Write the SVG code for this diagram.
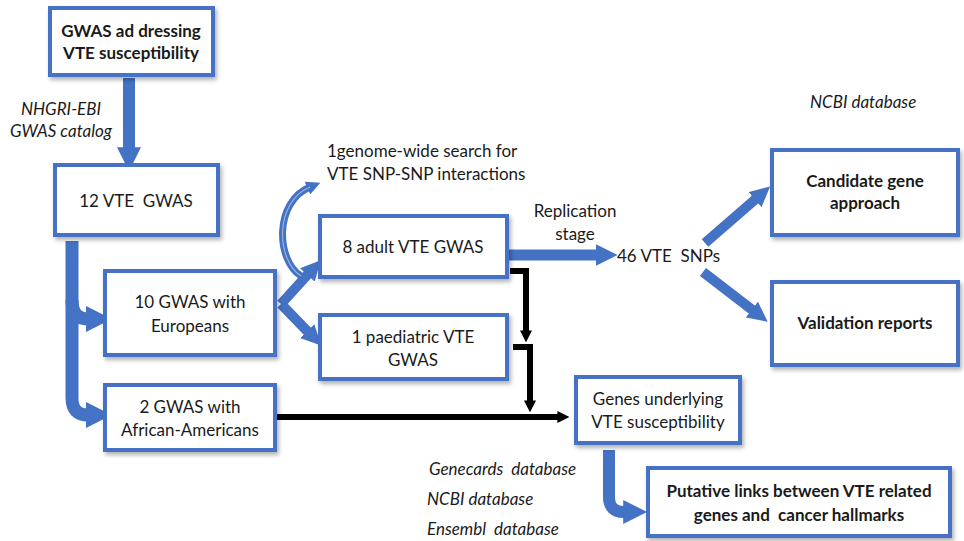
<svg xmlns="http://www.w3.org/2000/svg" width="964" height="541" viewBox="0 0 964 541">
  <style>
    .box { fill: #ffffff; stroke: #4472C4; stroke-width: 4; filter: url(#shadow); }
    text { font-family: Lato, "Open Sans", "Liberation Sans", sans-serif; font-size: 17px; fill: #1a1a1a; white-space: pre; }
    .b { font-weight: bold; }
    .i { font-style: italic; }
    .c { text-anchor: middle; }
    .blue { fill: none; stroke: #4472C4; stroke-linejoin: round; }
    .black { fill: none; stroke: #000000; stroke-width: 6; }
  </style>
  <defs>
    <filter id="shadow" x="-10%" y="-10%" width="130%" height="140%">
      <feDropShadow dx="2" dy="3" stdDeviation="2" flood-color="#000" flood-opacity="0.3"/>
    </filter>
    <marker id="bh" viewBox="0 0 10 10" refX="2" refY="5" markerWidth="2" markerHeight="2" orient="auto" markerUnits="strokeWidth">
      <path d="M0,0 L10,5 L0,10 z" fill="#4472C4"/>
    </marker>
    <marker id="kh" viewBox="0 0 10 10" refX="3" refY="5" markerWidth="2" markerHeight="2" orient="auto" markerUnits="strokeWidth">
      <path d="M0,0 L10,5 L0,10 z" fill="#000"/>
    </marker>
  </defs>

  <!-- connectors -->
  <g id="connectors">
    <!-- catalog search -->
    <path class="blue" d="M129,78 V152" stroke-width="12" marker-end="url(#bh)"/>
    <!-- split by ancestry -->
    <path class="blue" d="M72,241 V398 Q72,415 88,415 H91" stroke-width="13" marker-end="url(#bh)"/>
    <path class="blue" d="M72,300 Q72,319 88,319 H91" stroke-width="13" marker-end="url(#bh)"/>
    <!-- Europeans fork -->
    <path class="blue" d="M281,304 L310,272" stroke-width="10" marker-end="url(#bh)"/>
    <path class="blue" d="M281,304 L310,334" stroke-width="10" marker-end="url(#bh)"/>
    <!-- interaction search -->
    <path class="blue" d="M301,276 C276,260 274,202 310,187" stroke-width="7" marker-end="url(#bh)"/>
    <path d="M301,276 C276,260 274,202 310,187" fill="none" stroke="#ffffff" stroke-width="1.2" opacity="0.45"/>
    <!-- replication -->
    <path class="blue" d="M507,255 H600" stroke-width="11" marker-end="url(#bh)"/>
    <path class="blue" d="M705,243 L758,197" stroke-width="10" marker-end="url(#bh)"/>
    <path class="blue" d="M703,272 L755,312" stroke-width="10" marker-end="url(#bh)"/>
    <!-- gene annotation -->
    <path class="blue" d="M609,450 V497 Q609,512 624,512 H628" stroke-width="12" marker-end="url(#bh)"/>
    <!-- black gene mapping lines -->
    <path class="black" d="M510,271 H526 V334" marker-end="url(#kh)"/>
    <path class="black" d="M513,347 H530 V404" marker-end="url(#kh)"/>
    <path class="black" d="M276,417 H561" marker-end="url(#kh)"/>
  </g>

  <g id="n-gwas">
    <rect class="box" x="50" y="8" width="163" height="67"/>
    <text class="b c" x="131" y="37">GWAS ad dressing</text>
    <text class="b c" x="131" y="59">VTE susceptibility</text>
  </g>
  <g id="lbl-catalog">
    <text class="i c" x="61" y="115">NHGRI-EBI</text>
    <text class="i c" x="61" y="137">GWAS catalog</text>
  </g>
  <g id="n-12">
    <rect class="box" x="55" y="165" width="163" height="70"/>
    <text class="c" x="136" y="207">12 VTE  GWAS</text>
  </g>
  <g id="n-eur">
    <rect class="box" x="105" y="271" width="170" height="84"/>
    <text class="c" x="190" y="308">10 GWAS with</text>
    <text class="c" x="190" y="332">Europeans</text>
  </g>
  <g id="n-afr">
    <rect class="box" x="105" y="385" width="170" height="65"/>
    <text class="c" x="190" y="413">2 GWAS with</text>
    <text class="c" x="190" y="436">African-Americans</text>
  </g>
  <g id="lbl-interactions">
    <text x="327" y="157">1genome-wide search for</text>
    <text x="327" y="180">VTE SNP-SNP interactions</text>
  </g>
  <g id="n-adult">
    <rect class="box" x="320" y="216" width="187" height="61"/>
    <text class="c" x="413" y="253">8 adult VTE GWAS</text>
  </g>
  <g id="n-paed">
    <rect class="box" x="320" y="315" width="187" height="64"/>
    <text class="c" x="413" y="343">1 paediatric VTE</text>
    <text class="c" x="413" y="366">GWAS</text>
  </g>
  <g id="lbl-replication">
    <text class="c" x="575" y="217">Replication</text>
    <text class="c" x="575" y="240">stage</text>
  </g>
  <g id="n-snps">
    <text x="617" y="262">46 VTE  SNPs</text>
  </g>
  <g id="lbl-ncbi-top">
    <text class="i" x="810" y="108">NCBI database</text>
  </g>
  <g id="n-candidate">
    <rect class="box" x="772" y="150" width="186" height="85"/>
    <text class="b c" x="865" y="187">Candidate gene</text>
    <text class="b c" x="865" y="209">approach</text>
  </g>
  <g id="n-validation">
    <rect class="box" x="772" y="282" width="186" height="83"/>
    <text class="b c" x="865" y="329">Validation reports</text>
  </g>
  <g id="n-genes">
    <rect class="box" x="576" y="377" width="164" height="66"/>
    <text class="c" x="658" y="405">Genes underlying</text>
    <text class="c" x="658" y="428">VTE susceptibility</text>
  </g>
  <g id="lbl-databases">
    <text class="i" x="429" y="475">Genecards  database</text>
    <text class="i" x="427" y="505">NCBI database</text>
    <text class="i" x="427" y="535">Ensembl  database</text>
  </g>
  <g id="n-putative">
    <rect class="box" x="648" y="468" width="302" height="68"/>
    <text class="b c" x="799" y="497">Putative links between VTE related</text>
    <text class="b c" x="799" y="521">genes and  cancer hallmarks</text>
  </g>
</svg>
